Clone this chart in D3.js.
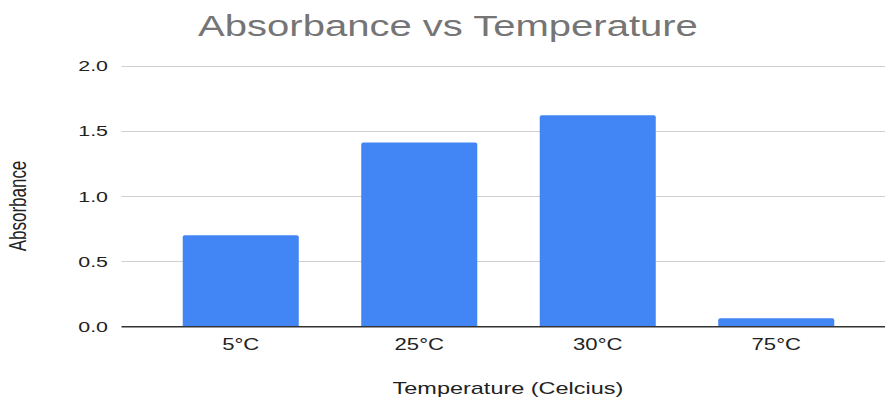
<!DOCTYPE html>
<html lang="en">
<head>
    <meta charset="UTF-8">
    <title>Absorbance vs Temperature</title>
    <script src="https://d3js.org/d3.v7.min.js"></script>
    <style>
        body { margin: 0; background: #fff; }
        text { font-family: Arial, "Liberation Sans", sans-serif; }
    </style>
</head>
<body>
    <div id="chart"></div>
    <script>
        // Data
        const temperatures = ["5°C", "25°C", "30°C", "75°C"];
        const absorbance = [0.70, 1.41, 1.62, 0.065];
        const yTicks = [0, 0.5, 1.0, 1.5, 2.0];

        const W = 885, H = 399;
        const stretchX = 1.38; // the reference text is drawn wide

        const svg = d3.select("#chart")
            .append("svg")
            .attr("width", W)
            .attr("height", H);

        // Scales
        const yScale = d3.scaleLinear().domain([0, 2]).range([326.8, 65.5]);
        const xScale = d3.scaleBand()
            .domain(temperatures)
            .range([151.5, 865.5])
            .paddingInner(0.35)
            .paddingOuter(0.175);

        const gridLeft = 121.5, gridRight = W;

        // stretch text horizontally to match the reference
        function widen(sel) {
            sel.each(function () {
                const len = this.getComputedTextLength();
                d3.select(this)
                    .attr("textLength", len * stretchX)
                    .attr("lengthAdjust", "spacingAndGlyphs");
            });
        }

        // Gridlines
        svg.append("g")
            .selectAll("line")
            .data(yTicks.filter(d => d !== 0))
            .enter()
            .append("line")
            .attr("x1", gridLeft)
            .attr("x2", gridRight)
            .attr("y1", d => Math.round(yScale(d)) + 0.5)
            .attr("y2", d => Math.round(yScale(d)) + 0.5)
            .attr("stroke", "#cfcfcf")
            .attr("stroke-width", 1);

        // Y tick labels
        svg.append("g")
            .selectAll("text")
            .data(yTicks)
            .enter()
            .append("text")
            .attr("x", 108)
            .attr("y", d => yScale(d))
            .attr("dy", "0.36em")
            .attr("text-anchor", "end")
            .attr("font-size", 15.5)
            .attr("fill", "#222")
            .text(d => d.toFixed(1))
            .call(widen);

        // Bars with slightly rounded top corners
        const r = 2;
        svg.append("g")
            .selectAll("path")
            .data(temperatures)
            .enter()
            .append("path")
            .attr("fill", "#4285f4")
            .attr("d", (d, i) => {
                const x0 = xScale(d), x1 = x0 + xScale.bandwidth();
                const y0 = yScale(absorbance[i]), yb = yScale(0);
                return `M${x0},${yb}V${y0 + r}Q${x0},${y0} ${x0 + r},${y0}H${x1 - r}Q${x1},${y0} ${x1},${y0 + r}V${yb}Z`;
            });

        // Baseline
        svg.append("line")
            .attr("x1", gridLeft)
            .attr("x2", gridRight)
            .attr("y1", yScale(0))
            .attr("y2", yScale(0))
            .attr("stroke", "#333")
            .attr("stroke-width", 1.5);

        // X tick labels
        svg.append("g")
            .selectAll("text")
            .data(temperatures)
            .enter()
            .append("text")
            .attr("x", d => xScale(d) + xScale.bandwidth() / 2)
            .attr("y", 350)
            .attr("text-anchor", "middle")
            .attr("font-size", 16)
            .attr("fill", "#222")
            .text(d => d)
            .call(widen);

        // Title
        svg.append("text")
            .attr("x", 448)
            .attr("y", 36)
            .attr("text-anchor", "middle")
            .attr("font-size", 29)
            .attr("fill", "#757575")
            .text("Absorbance vs Temperature")
            .call(widen);

        // X axis title
        svg.append("text")
            .attr("x", 508)
            .attr("y", 394)
            .attr("text-anchor", "middle")
            .attr("font-size", 17)
            .attr("fill", "#222")
            .text("Temperature (Celcius)")
            .call(widen);

        // Y axis title
        svg.append("text")
            .attr("transform", `translate(26,206) scale(${stretchX},1) rotate(-90)`)
            .attr("text-anchor", "middle")
            .attr("font-size", 17)
            .attr("fill", "#222")
            .text("Absorbance");
    </script>
</body>
</html>
